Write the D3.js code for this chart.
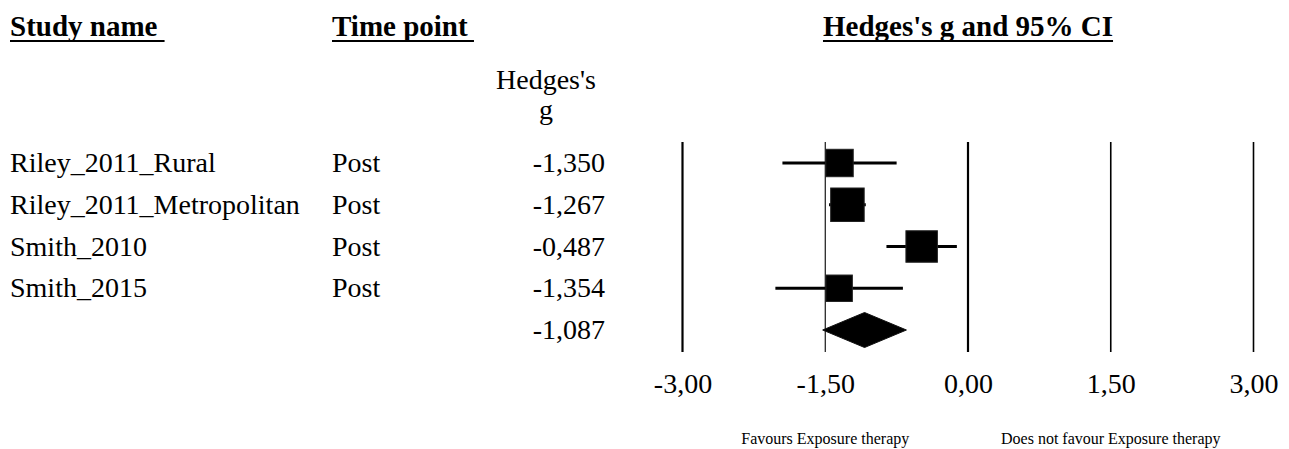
<!DOCTYPE html>
<html>
<head>
<meta charset="utf-8">
<script src="https://cdn.jsdelivr.net/npm/d3@7"></script>
<style>
  html, body { margin: 0; padding: 0; background: #fff; }
  svg { display: block; font-family: "Liberation Serif", "Times New Roman", serif; }
</style>
</head>
<body>
<svg id="chart" width="1289" height="449"></svg>
<script>
// ---- data ----
const studies = ["Riley_2011_Rural", "Riley_2011_Metropolitan", "Smith_2010", "Smith_2015"];
const timePoints = ["Post", "Post", "Post", "Post"];
const hedgesG = [-1.350, -1.267, -0.487, -1.354];
const ciLower = [-1.95, -1.46, -0.857, -2.024];
const ciUpper = [-0.75, -1.074, -0.117, -0.684];
const weights = [21.1, 31.5, 27.8, 19.6];
const summaryG = -1.087;
const summaryLower = -1.527;
const summaryUpper = -0.647;
const tickValues = [-3, -1.5, 0, 1.5, 3];
const footerLabels = ["Favours Exposure therapy", "Does not favour Exposure therapy"];
const footerAt = [-1.5, 1.5];

// ---- setup ----
const svg = d3.select("#chart");
const loc = d3.formatLocale({decimal: ",", thousands: ".", grouping: [3], currency: ["", ""], minus: "-"});
const fmtG = loc.format(".3f");
const fmtTick = loc.format(".2f");

const x = d3.scaleLinear().domain([-3, 3]).range([682.5, 1253.5]);
const rowIdx = d3.range(studies.length + 1);
const y = d3.scalePoint().domain(rowIdx).range([163, 330]);
const boxSize = d3.scaleSqrt().domain([0, d3.max(weights)]).range([0, 33.5]);

const bodyFont = 28;
const headFont = 29;

// ---- headers ----
const headers = [
  {text: "Study name", x: 10, anchor: "start", pad: 7},
  {text: "Time point", x: 332, anchor: "start", pad: 6},
  {text: "Hedges's g and 95% CI", x: x(0), anchor: "middle", pad: 0}
];
headers.forEach(h => {
  const t = svg.append("text")
    .attr("x", h.x).attr("y", 36)
    .attr("text-anchor", h.anchor)
    .attr("font-size", headFont).attr("font-weight", "bold")
    .attr("fill", "#000")
    .text(h.text);
  const bb = t.node().getBBox();
  svg.append("line")
    .attr("x1", bb.x).attr("x2", bb.x + bb.width + h.pad)
    .attr("y1", 41).attr("y2", 41)
    .attr("stroke", "#000").attr("stroke-width", 2);
});

// column header for g
svg.append("text").attr("x", 546).attr("y", 89)
  .attr("text-anchor", "middle").attr("font-size", bodyFont).text("Hedges's");
svg.append("text").attr("x", 546).attr("y", 119)
  .attr("text-anchor", "middle").attr("font-size", bodyFont).text("g");

// ---- table text ----
const base = 9;
svg.selectAll("text.study").data(studies).join("text")
  .attr("class", "study")
  .attr("x", 10).attr("y", (d, i) => y(i) + base)
  .attr("font-size", bodyFont).text(d => d);
svg.selectAll("text.tp").data(timePoints).join("text")
  .attr("class", "tp")
  .attr("x", 332).attr("y", (d, i) => y(i) + base)
  .attr("font-size", bodyFont).text(d => d);
svg.selectAll("text.gval").data(hedgesG.concat([summaryG])).join("text")
  .attr("class", "gval")
  .attr("x", 605).attr("y", (d, i) => y(i) + base)
  .attr("text-anchor", "end")
  .attr("font-size", bodyFont).text(d => fmtG(d));

// ---- grid lines ----
const gridWidths = [2.2, 1.1, 2.2, 1.6, 1.6];
svg.selectAll("line.grid").data(tickValues).join("line")
  .attr("class", "grid")
  .attr("x1", d => x(d)).attr("x2", d => x(d))
  .attr("y1", 142).attr("y2", 352)
  .attr("stroke", "#000")
  .attr("stroke-width", (d, i) => gridWidths[i]);

// ---- axis labels ----
const axis = d3.axisBottom(x).tickValues(tickValues).tickSize(0).tickPadding(0).tickFormat(fmtTick);
const gAxis = svg.append("g").attr("transform", "translate(0,373)").call(axis);
gAxis.select(".domain").remove();
gAxis.selectAll("text")
  .attr("font-family", "Liberation Serif, serif")
  .attr("font-size", bodyFont).attr("fill", "#000");

// ---- CI lines & boxes ----
svg.selectAll("line.ci").data(hedgesG).join("line")
  .attr("class", "ci")
  .attr("x1", (d, i) => x(ciLower[i])).attr("x2", (d, i) => x(ciUpper[i]))
  .attr("y1", (d, i) => y(i)).attr("y2", (d, i) => y(i))
  .attr("stroke", "#000").attr("stroke-width", 3);
svg.selectAll("rect.box").data(hedgesG).join("rect")
  .attr("class", "box")
  .attr("x", (d, i) => x(d) - boxSize(weights[i]) / 2)
  .attr("y", (d, i) => y(i) - boxSize(weights[i]) / 2)
  .attr("width", (d, i) => boxSize(weights[i]))
  .attr("height", (d, i) => boxSize(weights[i]))
  .attr("fill", "#000").attr("stroke", "#222").attr("stroke-width", 1);

// ---- summary diamond ----
const sy = y(studies.length);
const dh = 17.5;
svg.append("path")
  .attr("d", `M${x(summaryLower)},${sy} L${x(summaryG)},${sy - dh} L${x(summaryUpper)},${sy} L${x(summaryG)},${sy + dh} Z`)
  .attr("fill", "#000").attr("stroke", "#111").attr("stroke-width", 1);

// ---- footer ----
svg.selectAll("text.foot").data(footerLabels).join("text")
  .attr("class", "foot")
  .attr("x", (d, i) => x(footerAt[i])).attr("y", 444)
  .attr("text-anchor", "middle").attr("font-size", 16)
  .text(d => d);
</script>
</body>
</html>
